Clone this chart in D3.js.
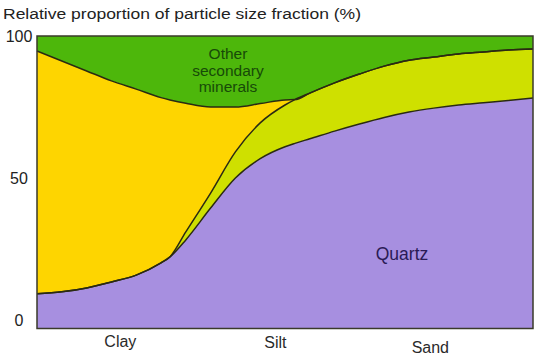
<!DOCTYPE html>
<html><head><meta charset="utf-8">
<script src="https://cdn.jsdelivr.net/npm/d3@7"></script>
<style>body{margin:0;background:#fff;} text{font-family:"Liberation Sans",Arial,sans-serif;}</style>
</head><body><svg id="c" width="536" height="357"></svg>
<script>
// position along the particle-size axis (0 = finest clay, 100 = coarsest sand)
const sizePos = [0,5,10,15,20,25,26.8,30,35,40,45,50,52,55,60,65,70,75,80,85,90,95,100];
const quartz  = [9.2,9.9,11.3,13.4,15.8,20.1,22.2,28.2,39.4,50.0,56.8,61.0,62.2,63.8,66.5,69.0,71.3,73.2,74.6,75.7,76.5,77.3,78.2];
const primary = [0,0,0,0,0,0,0,2.8,5.3,9.2,12.6,14.7,15.4,16.1,17.0,17.6,18.1,18.3,18.0,18.0,17.9,17.8,17.2];
const clay    = [85.5,81.3,76.4,70.8,65.5,58.2,55.3,45.3,30.3,15.8,6.8,1.8,0,0,0,0,0,0,0,0,0,0,0];
const other   = sizePos.map((_,i)=>100-quartz[i]-primary[i]-clay[i]);
const categories = ["Clay","Silt","Sand"];
const categoryPos = [16.7,79.2]; // first & last category on size axis
const yTicks = [0,50,100];
const title = "Relative proportion of particle size fraction (%)";
const otherLabel = ["Other","secondary","minerals"];
const keys = ["quartz","primary","clay","other"];
const colors = {quartz:"#a78fe0",primary:"#cfe000",clay:"#fed500",other:"#4db70b"};

const svg = d3.select("#c");
const x = d3.scaleLinear().domain([0,100]).range([37,533]);
const y = d3.scaleLinear().domain([-3,100]).range([328.5,36]);

const rows = sizePos.map((p,i)=>({pos:p,quartz:quartz[i],primary:primary[i],clay:clay[i],other:other[i]}));
const series = d3.stack().keys(keys)(rows);
const curve = d3.curveMonotoneX;
const area = d3.area().curve(curve).x(d=>x(d.data.pos))
  .y0(d=>d[0]===0?y(-3):y(d[0])).y1(d=>y(d[1]));
svg.append("g").selectAll("path").data(series).join("path")
  .attr("d",area).attr("fill",s=>colors[s.key]);

const line = d3.line().curve(curve).x(d=>x(d.data.pos)).y(d=>y(d[1]));
svg.append("g").selectAll("path").data(series.slice(0,3)).join("path")
  .attr("d",line).attr("fill","none").attr("stroke","#2a2a12").attr("stroke-width",1.5);

// frame
svg.append("rect").attr("x",x(0)).attr("y",y(100)).attr("width",x(100)-x(0)).attr("height",y(-3)-y(100))
  .attr("fill","none").attr("stroke","#3a3a2a").attr("stroke-width",1.5);

// y axis labels
const yAxis = svg.append("g").attr("transform","translate(19,0)")
  .call(d3.axisLeft(y).tickValues(yTicks).tickSize(0).tickFormat(d3.format("d")));
yAxis.select(".domain").remove();
yAxis.selectAll("text").attr("x",0).attr("text-anchor","middle").attr("font-size",16).attr("fill","#222")
  .attr("font-family","Liberation Sans, Arial, sans-serif");

// x category labels
const xc = d3.scalePoint().domain(categories).range([x(categoryPos[0]),x(categoryPos[1])]);
const xAxis = svg.append("g").attr("transform","translate(0,333)")
  .call(d3.axisBottom(xc).tickSize(0));
xAxis.select(".domain").remove();
xAxis.selectAll("text").attr("font-size",16).attr("fill","#2a2a2a")
  .attr("dy",d=>d==="Sand"?"1.05em":d==="Silt"?"0.75em":"0.68em")
  .attr("font-family","Liberation Sans, Arial, sans-serif");

svg.append("text").attr("x",3).attr("y",19).attr("font-size",15.5).attr("fill","#222")
  .attr("textLength",358).attr("lengthAdjust","spacingAndGlyphs").text(title);

const lab = svg.append("text").attr("text-anchor","middle").attr("font-size",15.5).attr("fill","#174a08");
otherLabel.forEach((t,i)=>lab.append("tspan").attr("x",228).attr("y",59+i*16.5).text(t));
svg.append("text").attr("x",402).attr("y",260).attr("text-anchor","middle").attr("font-size",17.5).attr("fill","#2a1a55").text("Quartz");
</script></body></html>
